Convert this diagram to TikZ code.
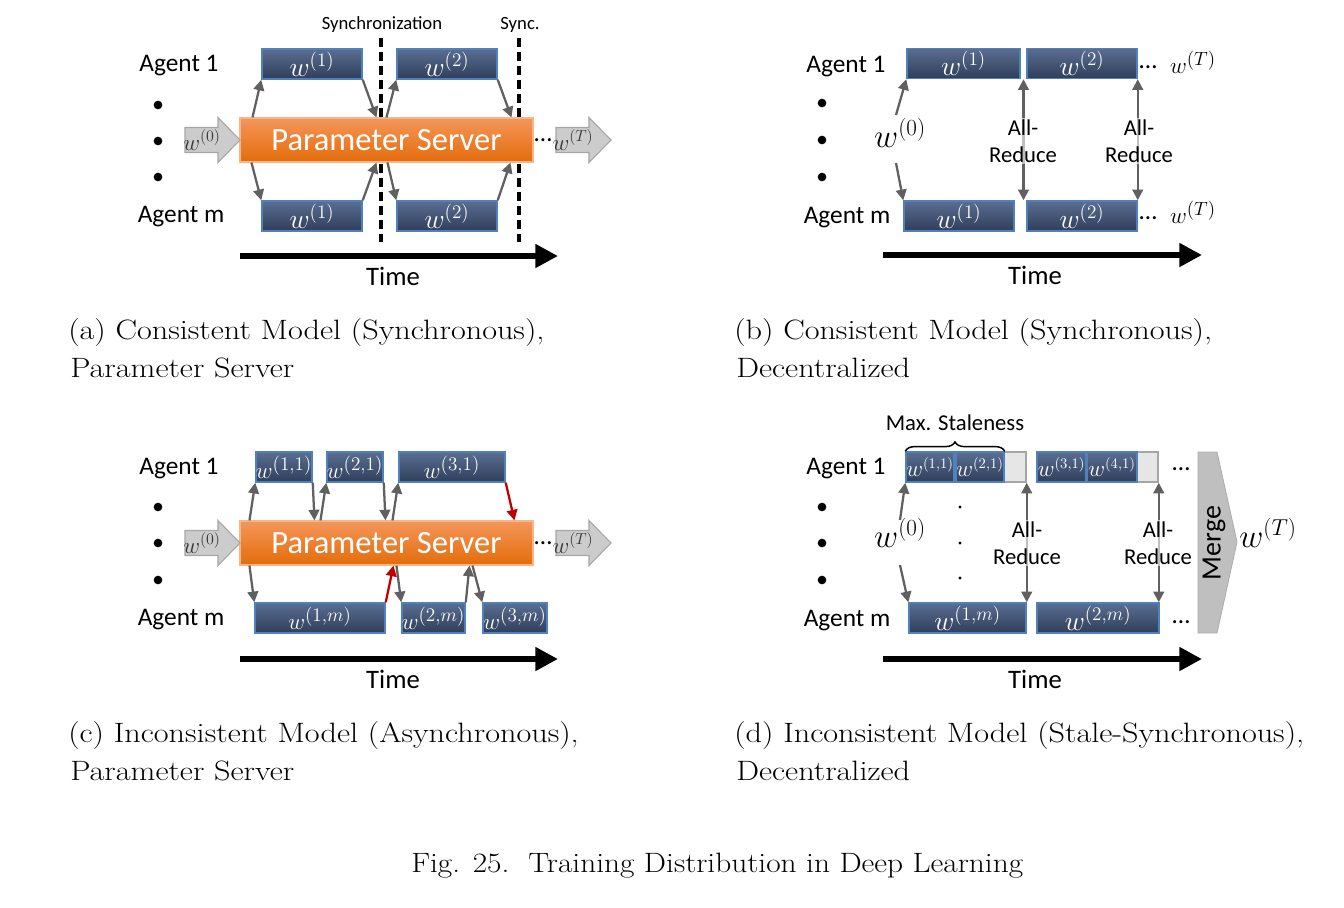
\documentclass[tikz,border=0pt]{standalone}
\usepackage{fontspec}
\usepackage{graphicx}
\newfontfamily\carl{Carlito}
\usetikzlibrary{arrows.meta,calc,decorations.pathreplacing}
\definecolor{boxtop}{HTML}{5A6E91}
\definecolor{boxbot}{HTML}{2F3E5A}
\definecolor{boxborder}{HTML}{4F81BD}
\definecolor{pstop}{HTML}{F4965A}
\definecolor{psbot}{HTML}{E46C0A}
\definecolor{psborder}{HTML}{F8B688}
\definecolor{conn}{HTML}{606060}
\definecolor{garfill}{HTML}{CCCCCC}
\definecolor{gardraw}{HTML}{A6A6A6}
\definecolor{redc}{HTML}{C00000}
\definecolor{stalefill}{HTML}{E6E6E6}
\definecolor{staledraw}{HTML}{A6A6A6}
\definecolor{mergefill}{HTML}{BFBFBF}
\newcommand\myfs[2]{\fontsize{#1}{#2}\selectfont}
\newcommand\capstretch[1]{\scalebox{1.15}[1]{#1}}
\newcommand\garrow[4]{%
  \draw[garrowsty] (#2,#3-12.5) -- ++(33,0) -- ++(0,-10) -- (#2+55,#3)
    -- (#2+33,#3+22.5) -- ++(0,-10) -- (#2,#3+12.5) -- cycle;
  \node[glabel] (#1) at (#2+17,#3) {$w^{(#4)}$};}
\tikzset{
  wbox/.style={draw=boxborder, line width=1.1pt, top color=boxtop, bottom color=boxbot,
    text=white, inner sep=0pt, minimum height=22.5pt},
  bw/.style={minimum width=#1*0.75pt},
  lab/.style={font=\myfs{21.5}{21.5}},
  labc/.style={font=\myfs{19}{19}},
  labd/.style={font=\myfs{16}{16}},
  psbox/.style={draw=psborder, line width=0.8pt, top color=pstop, bottom color=psbot,
    text=white, inner sep=0pt, minimum width=219.75pt, minimum height=33pt,
    font=\carl\myfs{24.4}{26}},
  agent/.style={font=\carl\myfs{19}{20}, inner sep=0pt},
  timelbl/.style={font=\carl\myfs{20}{22}, inner sep=0pt},
  smalltxt/.style={font=\carl\myfs{14}{16}, inner sep=0pt},
  ell/.style={font=\carl\myfs{19}{20}, inner sep=0pt},
  arr/.style={draw=conn, line width=1.7pt, -{Triangle[length=8pt,width=8pt]}},
  rarr/.style={draw=redc, line width=1.7pt, -{Triangle[length=8pt,width=8pt]}},
  darr/.style={draw=conn, line width=1.7pt,
    {Triangle[length=8pt,width=8pt]}-{Triangle[length=8pt,width=8pt]}},
  timearr/.style={line width=4.5pt, -{Triangle[length=17pt,width=17pt]}},
  syncline/.style={line width=2.6pt, dash pattern=on 7pt off 3.5pt},
  bigdot/.style={circle, fill=black, inner sep=0pt, minimum size=6.5pt},
  smalldot/.style={circle, fill=black, inner sep=0pt, minimum size=2.4pt},
  garrowsty/.style={fill=garfill, draw=gardraw, line width=0.8pt},
  glabel/.style={inner sep=0pt, text=black!80, font=\myfs{17}{17}},
  allred/.style={font=\carl\myfs{17}{20.25}, align=center, fill=white, fill opacity=0.6,
    text opacity=1, inner sep=1pt},
  bigw/.style={inner sep=0pt, font=\myfs{25}{25}},
  capt/.style={font=\myfs{21}{24}, anchor=base west, inner sep=0pt},
}
\begin{document}
\begin{tikzpicture}[x=0.75pt,y=-0.75pt]
\useasboundingbox (0,0) rectangle (1344,907);

% ================= (a) =================
\node[smalltxt] (syncA) at (382,25) {Synchronization};
\node[smalltxt] (syncB) at (520,25) {Sync.};
\coordinate (sA1) at (381,38); \coordinate (sA2) at (381,242);
\coordinate (sB1) at (519,38); \coordinate (sB2) at (519,242);
\draw[syncline] (sA1) -- (sA2);
\draw[syncline] (sB1) -- (sB2);
\node[agent] (agA1) at (179,66) {Agent 1};
\node[agent] (agAm) at (181,217) {Agent m};
\node[bigdot] (dA1) at (158,105) {};
\node[bigdot] (dA2) at (158,141) {};
\node[bigdot] (dA3) at (158,177) {};
\node[wbox,bw=100,lab] (a1t) at (312,64) {$w^{(1)}$};
\node[wbox,bw=100,lab] (a2t) at (447,64) {$w^{(2)}$};
\node[wbox,bw=100,lab] (a1b) at (312,216) {$w^{(1)}$};
\node[wbox,bw=100,lab] (a2b) at (447,216) {$w^{(2)}$};
\node[psbox] (psA) at (386.5,140) {Parameter Server};
\garrow{w0A}{185}{140}{0}
\node[ell] (elA) at (543,140) {…};
\garrow{wTA}{556}{140}{T}
\draw[arr] ($(psA.north west)+(13,0)$) -- (a1t.south west);
\draw[arr] (a1t.south east) -- ($(psA.north west)+(137,0)$);
\draw[arr] ($(psA.north west)+(147,0)$) -- (a2t.south west);
\draw[arr] (a2t.south east) -- ($(psA.north west)+(272,0)$);
\draw[arr] ($(psA.south west)+(12,0)$) -- (a1b.north west);
\draw[arr] (a1b.north east) -- ($(psA.south west)+(137,0)$);
\draw[arr] ($(psA.south west)+(148,0)$) -- (a2b.north west);
\draw[arr] (a2b.north east) -- ($(psA.south west)+(271,0)$);
\coordinate (tA1) at (240,256); \coordinate (tA2) at (558,256);
\draw[timearr] (tA1) -- (tA2);
\node[timelbl] (timeA) at (393,276) {Time};
\node[capt] (capA1) at (68,339) {\capstretch{(a) Consistent Model (Synchronous),}};
\node[capt] (capA2) at (70,377) {\capstretch{Parameter Server}};

% ================= (b) =================
\node[agent] (agB1) at (846,67) {Agent 1};
\node[agent] (agBm) at (847,218) {Agent m};
\node[bigdot] (dB1) at (822,103) {};
\node[bigdot] (dB2) at (822,140) {};
\node[bigdot] (dB3) at (822,177) {};
\node[wbox,bw=113,lab] (b1t) at (963.5,63.5) {$w^{(1)}$};
\node[wbox,bw=110,lab] (b2t) at (1082,63.5) {$w^{(2)}$};
\node[wbox,bw=110,lab] (b1m) at (959,216) {$w^{(1)}$};
\node[wbox,bw=110,lab] (b2m) at (1082,216) {$w^{(2)}$};
\node[ell] (elB1) at (1148,67) {…};
\node[ell] (elB2) at (1148,218) {…};
\node[inner sep=0pt, font=\myfs{19}{19}] (wTB1) at (1193,62) {$w^{(T)}$};
\node[inner sep=0pt, font=\myfs{19}{19}] (wTB2) at (1193,212) {$w^{(T)}$};
\node[bigw] (w0B) at (900,133) {$w^{(0)}$};
\draw[arr] ($(w0B.center)+(-4,-18)$) -- (b1t.south west);
\draw[arr] ($(w0B.center)+(-4,30)$) -- (b1m.north west);
\coordinate (arB1) at ($(b1t.south east)!0.5!(b2t.south west)$);
\draw[darr] (arB1) -- (arB1 |- b1m.north);
\draw[darr] (b2t.south east) -- (b2t.south east |- b2m.north);
\node[allred] (arlB1) at (1023,141) {All-\\Reduce};
\node[allred] (arlB2) at (1139,141) {All-\\Reduce};
\coordinate (tB1) at (883,255); \coordinate (tB2) at (1202,255);
\draw[timearr] (tB1) -- (tB2);
\node[timelbl] (timeB) at (1035,275) {Time};
\node[capt] (capB1) at (734,339) {\capstretch{(b) Consistent Model (Synchronous),}};
\node[capt] (capB2) at (736,377) {\capstretch{Decentralized}};

% ================= (c) =================
\node[agent] (agC1) at (179,469) {Agent 1};
\node[agent] (agCm) at (181,620) {Agent m};
\node[bigdot] (dC1) at (158,507) {};
\node[bigdot] (dC2) at (158,543) {};
\node[bigdot] (dC3) at (158,580) {};
\node[wbox,bw=56,labc] (c11) at (284,467) {$w^{(1,1)}$};
\node[wbox,bw=56,labc] (c21) at (355,467) {$w^{(2,1)}$};
\node[wbox,bw=106,labc] (c31) at (452,467) {$w^{(3,1)}$};
\node[wbox,bw=130,labc] (c1m) at (320,618) {$w^{(1,m)}$};
\node[wbox,bw=57,labc] (c2m) at (433.5,618) {$w^{(2,m)}$};
\node[wbox,bw=64,labc] (c3m) at (515,618) {$w^{(3,m)}$};
\node[psbox] (psC) at (386.5,543) {Parameter Server};
\garrow{w0C}{185}{543}{0}
\node[ell] (elC) at (543,543) {…};
\garrow{wTC}{556}{543}{T}
\draw[arr] ($(psC.north west)+(10,0)$) -- (c11.south west);
\draw[arr] (c11.south east) -- ($(psC.north west)+(75,0)$);
\draw[arr] ($(psC.north west)+(81,0)$) -- (c21.south west);
\draw[arr] (c21.south east) -- ($(psC.north west)+(146,0)$);
\draw[arr] ($(psC.north west)+(153,0)$) -- (c31.south west);
\draw[rarr] (c31.south east) -- ($(psC.north west)+(275,0)$);
\draw[arr] ($(psC.south west)+(10,0)$) -- (c1m.north west);
\draw[rarr] (c1m.north east) -- ($(psC.south west)+(154,0)$);
\draw[arr] ($(psC.south west)+(157,0)$) -- (c2m.north west);
\draw[arr] (c2m.north east) -- ($(psC.south west)+(230,0)$);
\draw[arr] ($(psC.south west)+(233,0)$) -- (c3m.north west);
\coordinate (tC1) at (240,659); \coordinate (tC2) at (558,659);
\draw[timearr] (tC1) -- (tC2);
\node[timelbl] (timeC) at (393,679) {Time};
\node[capt] (capC1) at (68,742) {\capstretch{(c) Inconsistent Model (Asynchronous),}};
\node[capt] (capC2) at (70,780) {\capstretch{Parameter Server}};

% ================= (d) =================
\node[inner sep=0pt, font=\carl\myfs{17}{18}] (stale) at (955,423) {Max. Staleness};
\node[agent] (agD1) at (846,469) {Agent 1};
\node[agent] (agDm) at (847,621) {Agent m};
\node[bigdot] (dD1) at (822,507) {};
\node[bigdot] (dD2) at (822,543) {};
\node[bigdot] (dD3) at (822,580) {};
\node[smalldot] (sd1) at (960,507) {};
\node[smalldot] (sd2) at (960,543) {};
\node[smalldot] (sd3) at (960,578) {};
\node[draw=staledraw, fill=stalefill, line width=1.1pt, minimum width=24*0.75pt,
  minimum height=22.5pt, inner sep=0pt] (dg1) at (1014,467) {};
\node[draw=staledraw, fill=stalefill, line width=1.1pt, minimum width=24*0.75pt,
  minimum height=22.5pt, inner sep=0pt] (dg2) at (1146,467) {};
\node[wbox,bw=48,labd] (d11) at (930,467) {$w^{(1,1)}$};
\node[wbox,bw=48,labd] (d21) at (980,467) {$w^{(2,1)}$};
\node[wbox,bw=49,labd] (d31) at (1061.5,467) {$w^{(3,1)}$};
\node[wbox,bw=50,labd] (d41) at (1112,467) {$w^{(4,1)}$};
\draw[line width=1.1pt, decorate, decoration={brace, amplitude=7pt}]
  (d11.north west) -- (d21.north east);
\node[wbox,bw=117,lab] (d1m) at (967.5,618) {$w^{(1,m)}$};
\node[wbox,bw=122,lab] (d2m) at (1098,618) {$w^{(2,m)}$};
\node[ell] (elD1) at (1181,469) {…};
\node[ell] (elD2) at (1181,622) {…};
\node[bigw] (w0D) at (900,533) {$w^{(0)}$};
\draw[arr] ($(w0D.center)+(0,-13)$) -- (d11.south west);
\draw[arr] ($(w0D.center)+(0,32)$) -- (d1m.north west);
\draw[darr] (dg1.south east) -- (dg1.south east |- d1m.north);
\draw[darr] (dg2.south east) -- (dg2.south east |- d2m.north);
\node[allred] (arlD1) at (1027,543) {All-\\Reduce};
\node[allred] (arlD2) at (1158,543) {All-\\Reduce};
\draw[fill=mergefill, draw=mergefill!90!black, line width=0.6pt]
  (1198,452) -- (1217,452) -- (1237,542) -- (1217,633) -- (1198,633) -- cycle;
\node[rotate=90, inner sep=0pt, font=\carl\myfs{21}{22}] (merge) at (1214,543) {Merge};
\node[bigw] (wTD) at (1268,533) {$w^{(T)}$};
\coordinate (tD1) at (883,659); \coordinate (tD2) at (1202,659);
\draw[timearr] (tD1) -- (tD2);
\node[timelbl] (timeD) at (1035,679) {Time};
\node[capt] (capD1) at (734,742) {\capstretch{(d) Inconsistent Model (Stale-Synchronous),}};
\node[capt] (capD2) at (736,780) {\capstretch{Decentralized}};

% ================= figure caption =================
\node[capt] (figcap) at (411,872) {\scalebox{1.12}[1]{Fig. 25.\ \ Training Distribution in Deep Learning}};
\end{tikzpicture}
\end{document}
